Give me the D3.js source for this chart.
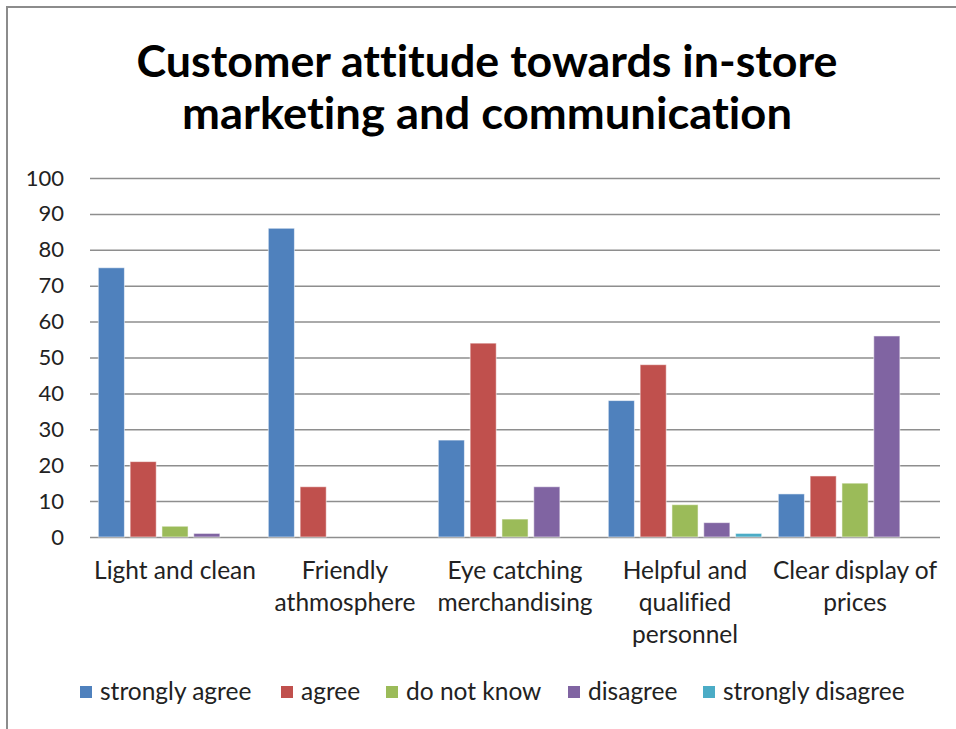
<!DOCTYPE html>
<html>
<head>
<meta charset="utf-8">
<script src="https://cdn.jsdelivr.net/npm/d3@7/dist/d3.min.js"></script>
<style>
  html, body { margin: 0; padding: 0; background: #fff; }
  svg { display: block; }
  text { font-family: Lato, "Open Sans", "Noto Sans", sans-serif; fill: #222; font-variant-ligatures: none; }
</style>
</head>
<body>
<svg id="chart" width="956" height="729"></svg>
<script>
// Survey categories and responses (percent)
const categories = [
  ["Light and clean"],
  ["Friendly", "athmosphere"],
  ["Eye catching", "merchandising"],
  ["Helpful and", "qualified", "personnel"],
  ["Clear display of", "prices"]
];
const seriesNames = ["strongly agree", "agree", "do not know", "disagree", "strongly disagree"];
const stronglyAgree    = [75, 86, 27, 38, 12];
const agree            = [21, 14, 54, 48, 17];
const doNotKnow        = [3, 0, 5, 9, 15];
const disagree         = [1, 0, 14, 4, 56];
const stronglyDisagree = [0, 0, 0, 1, 0];
const yTicks = [0, 10, 20, 30, 40, 50, 60, 70, 80, 90, 100];
const titleLines = ["Customer attitude towards in-store", "marketing and communication"];

const seriesValues = [stronglyAgree, agree, doNotKnow, disagree, stronglyDisagree];
const colors = ["#4F81BD", "#C0504D", "#9BBB59", "#8064A2", "#4BACC6"];

const svg = d3.select("#chart");

// chart frame (top and left edges visible)
svg.append("rect")
  .attr("x", 7).attr("y", 7)
  .attr("width", 1000).attr("height", 800)
  .attr("fill", "none").attr("stroke", "#8c8c8c").attr("stroke-width", 2);

// title
svg.append("g").selectAll("text").data(titleLines).enter().append("text")
  .attr("x", 487)
  .attr("y", (d, i) => 77 + i * 52)
  .attr("text-anchor", "middle")
  .attr("font-weight", "bold")
  .attr("font-size", 44)
  .attr("textLength", (d, i) => i === 0 ? 701 : 610)
  .attr("lengthAdjust", "spacingAndGlyphs")
  .style("fill", "#000")
  .text(d => d);

const plot = { left: 90, right: 940, top: 178, bottom: 537 };

const x0 = d3.scaleBand()
  .domain(d3.range(categories.length))
  .range([plot.left, plot.right])
  .padding(0);

const groupPad = 8.3;
const x1 = d3.scaleBand()
  .domain(d3.range(seriesNames.length))
  .range([groupPad, x0.bandwidth() - groupPad])
  .paddingInner(0.18)
  .paddingOuter(0);

const y = d3.scaleLinear().domain([0, 100]).range([plot.bottom, plot.top]);

// gridlines and value labels
const yAxis = d3.axisLeft(y)
  .tickValues(yTicks)
  .tickSize(-(plot.right - plot.left))
  .tickPadding(26)
  .tickFormat(d3.format("d"));

const yg = svg.append("g")
  .attr("transform", `translate(${plot.left},0)`)
  .call(yAxis);
yg.select(".domain").remove();
yg.selectAll(".tick line").attr("stroke", "#8e8e8e").attr("stroke-width", 1.5);
yg.selectAll(".tick text")
  .attr("font-size", 22)
  .style("font-family", "Lato, 'Open Sans', sans-serif")
  .style("fill", "#222");

// bars
const groups = svg.append("g").selectAll("g")
  .data(categories)
  .enter().append("g")
  .attr("transform", (d, i) => `translate(${x0(i)},0)`);

groups.selectAll("rect")
  .data((d, ci) => seriesValues.map((vals, si) => ({ si, v: vals[ci] })).filter(e => e.v > 0))
  .enter().append("rect")
  .attr("x", d => x1(d.si))
  .attr("y", d => y(d.v))
  .attr("width", x1.bandwidth())
  .attr("height", d => y(0) - y(d.v))
  .attr("fill", d => colors[d.si])
  .attr("stroke", "rgba(255,255,255,0.55)")
  .attr("stroke-width", 1);

// category labels
const labels = svg.append("g").selectAll("text")
  .data(categories)
  .enter().append("text")
  .attr("text-anchor", "middle")
  .attr("font-size", 24.5)
  .attr("transform", (d, i) => `translate(${x0(i) + x0.bandwidth() / 2},579)`);
labels.selectAll("tspan")
  .data(d => d)
  .enter().append("tspan")
  .attr("x", 0)
  .attr("y", (d, i) => i * 32)
  .text(d => d);

// legend
const legendX = [80, 281, 386, 568, 703];
const legend = svg.append("g").selectAll("g")
  .data(seriesNames)
  .enter().append("g")
  .attr("transform", (d, i) => `translate(${legendX[i]},686)`);
legend.append("rect")
  .attr("width", 12).attr("height", 12)
  .attr("fill", (d, i) => colors[i]);
legend.append("text")
  .attr("x", 20).attr("y", 14)
  .attr("font-size", 24.5)
  .text(d => d);
</script>
</body>
</html>
